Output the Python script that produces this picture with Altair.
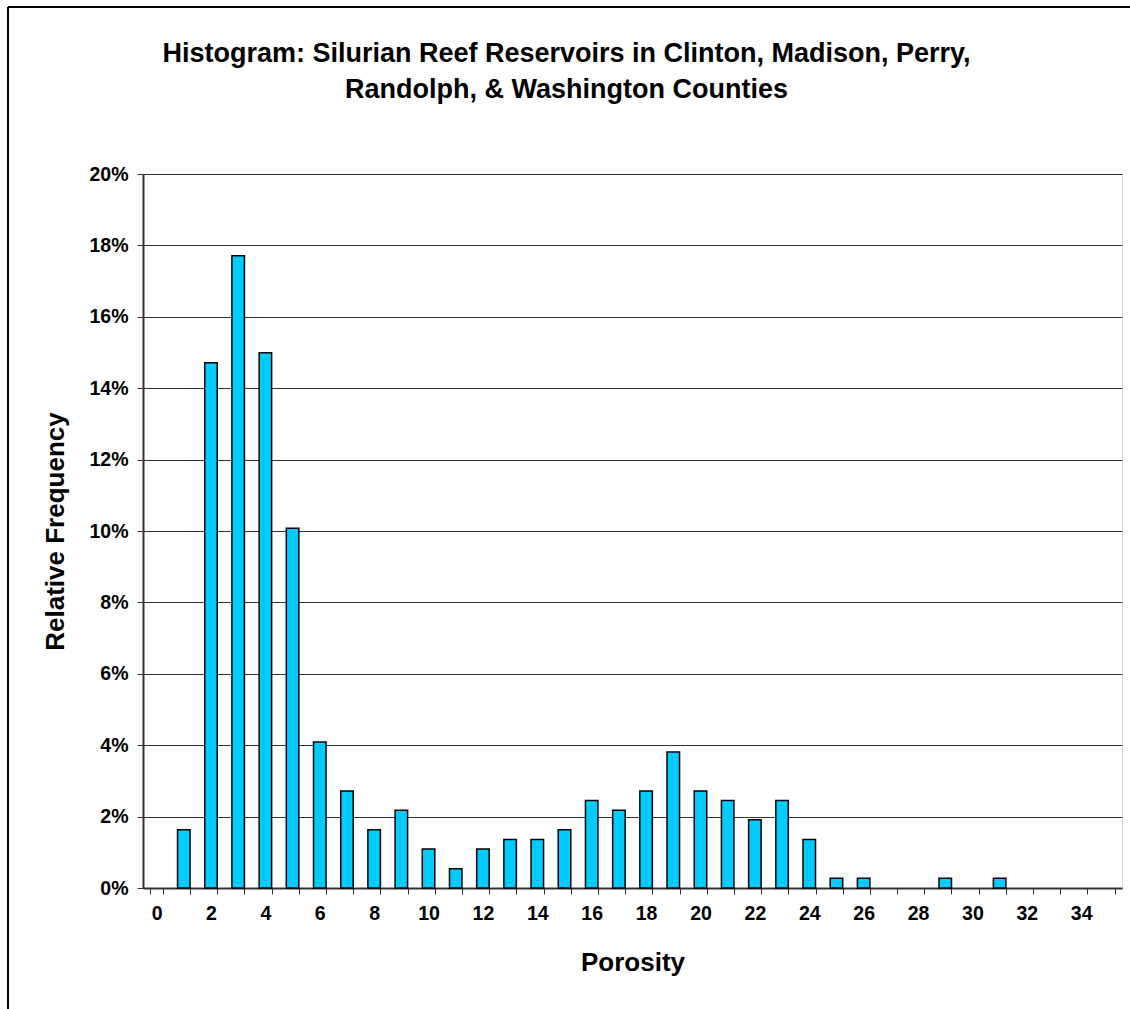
import altair as alt
import pandas as pd

porosity = list(range(36))
rel_freq = [0.0, 0.0163, 0.1471, 0.1771, 0.1499, 0.1008, 0.0409, 0.0272, 0.0163, 0.0218,
            0.0109, 0.0054, 0.0109, 0.0136, 0.0136, 0.0163, 0.0245, 0.0218, 0.0272, 0.0381,
            0.0272, 0.0245, 0.0191, 0.0245, 0.0136, 0.0027, 0.0027, 0.0, 0.0, 0.0027,
            0.0, 0.0027, 0.0, 0.0, 0.0, 0.0]

df = pd.DataFrame({"Porosity": porosity, "Freq": rel_freq})

FONT = "Liberation Sans"
W, H = 979, 714
PL, PT = 143, 174

bars = alt.Chart(df).transform_filter("datum.Freq > 0").mark_bar(
    color="#00CCFF", stroke="#000000", strokeWidth=1.5).encode(
    x=alt.X("Porosity:O",
            scale=alt.Scale(domain=porosity, paddingInner=0.54, paddingOuter=0.27),
            axis=alt.Axis(title="Porosity", labelAngle=0,
                          labelExpr="datum.value % 2 == 0 ? datum.label : ''",
                          tickBand="extent", tickSize=6, tickColor="#333333",
                          domainColor="#333333", domainWidth=2,
                          labelFont=FONT, labelFontSize=19.5, labelFontWeight="bold",
                          labelPadding=10, labelColor="#000000",
                          titleFont=FONT, titleFontSize=26, titleFontWeight="bold",
                          titlePadding=27, titleColor="#000000", grid=False)),
    y=alt.Y("Freq:Q",
            scale=alt.Scale(domain=[0, 0.20], nice=False),
            axis=alt.Axis(title="Relative Frequency", format=".0%", values=[i / 100 for i in range(0, 21, 2)],
                          tickSize=6, tickColor="#333333", domainColor="#333333", domainWidth=2,
                          labelFont=FONT, labelFontSize=19.5, labelFontWeight="bold",
                          labelPadding=9, labelColor="#000000",
                          titleFont=FONT, titleFontSize=26, titleFontWeight="bold",
                          titlePadding=20, titleColor="#000000",
                          grid=True, gridColor="#333333", gridWidth=1)),
)

frame_left = alt.Chart(df).mark_rule(color="#000000", strokeWidth=1.5).encode(
    x=alt.value(8 - PL), y=alt.value(7 - PT), y2=alt.value(1009 - PT + 5))
frame_top = alt.Chart(df).mark_rule(color="#000000", strokeWidth=1.5).encode(
    y=alt.value(7 - PT), x=alt.value(8 - PL), x2=alt.value(1130 - PL + 5))

chart = alt.layer(bars, frame_left, frame_top).properties(
    width=W, height=H,
    title=alt.TitleParams(
        text=["Histogram: Silurian Reef Reservoirs in Clinton, Madison, Perry,",
              "Randolph, & Washington Counties"],
        font=FONT, fontSize=27, fontWeight="bold", color="#000000",
        lineHeight=36, anchor="middle", dx=-66, offset=-98),
    autosize=alt.AutoSizeParams(type="none"),
    padding={"left": PL, "top": PT, "right": 1130 - PL - W, "bottom": 1009 - PT - H},
).configure_view(stroke="#808080", strokeWidth=1.5).configure(background="#ffffff")

chart.save("out.html", embed_options={"renderer": "svg", "actions": False})
